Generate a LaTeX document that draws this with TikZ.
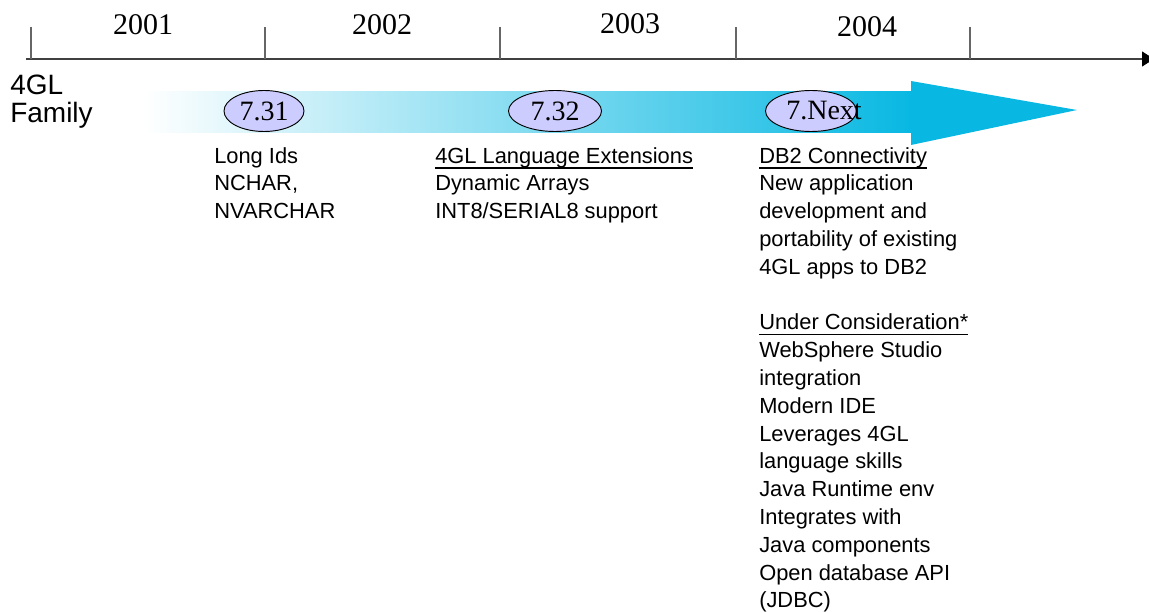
\documentclass[tikz,border=0pt]{standalone}
\usepackage{fontspec}
\setmainfont{Liberation Serif}
\setsansfont{Liberation Sans}
\usetikzlibrary{arrows.meta, shapes.geometric}
\definecolor{arrowcyan}{RGB}{8,184,226}
\definecolor{relfill}{RGB}{204,204,255}
\newcommand\ulined[1]{\setbox0\hbox{#1}\rlap{\vrule height -3pt depth 4.1pt width \wd0}\box0}
\tikzset{
axis/.style={draw=black!75, line width=0.8pt},
tickline/.style={draw=black!60, line width=0.8pt},
year/.style={font=\fontsize{22.5}{27}\selectfont, inner sep=0},
release/.style={ellipse, draw=black, fill=relfill, line width=0.7pt, minimum height=30.75pt, inner sep=0, font=\fontsize{21}{25}\selectfont},
reltext/.style={font=\fontsize{21}{25}\selectfont, inner sep=0},
family/.style={font=\sffamily\fontsize{21}{21}\selectfont, align=left, anchor=north west, inner sep=0},
notes/.style={font=\sffamily\fontsize{16.4}{20.85}\selectfont, align=left, anchor=north west, inner sep=0},
}

\begin{document}
\begin{tikzpicture}[x=0.75pt, y=-0.75pt]
    \useasboundingbox (0,0) rectangle (1149,613);
    % time axis
    \coordinate (axstart) at (26,59);
    \coordinate (axend) at (1154,59);
    \draw[axis, -{Triangle[length=9pt, width=11.25pt, color=black]}] (axstart) -- (axend);
    \foreach \x in {31,265,500,736,970}
        \draw[tickline] (\x,27) -- (\x,59);
    \node[year] (y2001) at (143,25) {2001};
    \node[year] (y2002) at (382,25) {2002};
    \node[year] (y2003) at (630,24) {2003};
    \node[year] (y2004) at (867,27) {2004};
    \node[family] (fam) at (10,75) {4GL\\Family};
    % big arrow
    \fill[left color=white, right color=arrowcyan] (143,92) rectangle (912,133);
    \fill[arrowcyan] (911,81) -- (1077,110) -- (911,145) -- cycle;
    % releases
    \node[release, minimum width=60pt] (r731) at (264,111) {7.31};
    \node[release, minimum width=69.75pt] (r732) at (555,111) {7.32};
    \node[release, minimum width=68.25pt] (rnext) at (811,111) {};
    \node[reltext] (rnexttxt) at (824,111) {7.Next};
    %\node[reltext] at (811,111) {7.Next};
    \node[notes] (n731) at (214,147) {Long Ids\\NCHAR,\\NVARCHAR};
    \node[notes] (n732) at (435,147) {\ulined{4GL Language Extensions}\\Dynamic Arrays\\INT8/SERIAL8 support};
    \node[notes] (nnext) at (759,147) {\ulined{DB2 Connectivity}\\New application\\development and\\portability of existing\\4GL apps to DB2\\[20.85pt]\ulined{Under Consideration*}\\WebSphere Studio\\integration\\Modern IDE\\Leverages 4GL\\language skills\\Java Runtime env\\Integrates with\\Java components\\Open database API\\(JDBC)};
\end{tikzpicture}
\end{document}
